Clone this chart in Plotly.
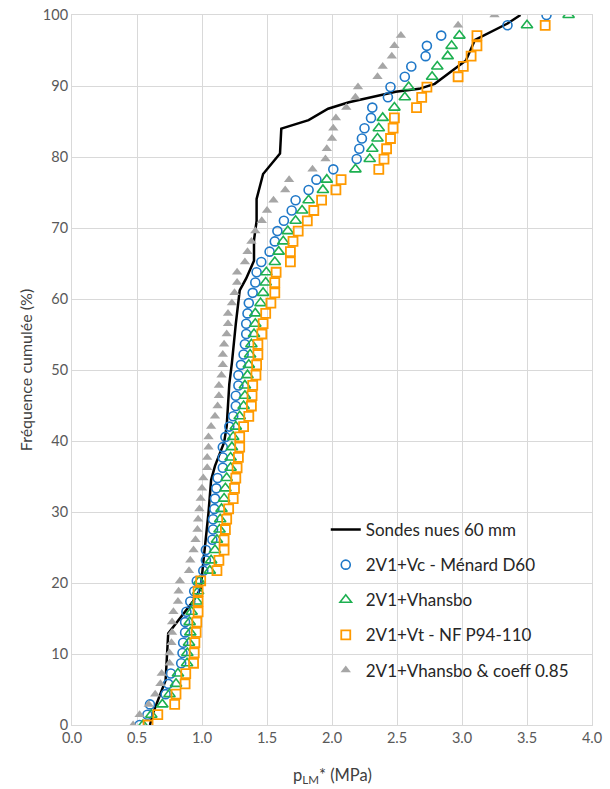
import plotly.graph_objects as go

n_pts = 70
pct = [i * 100 / (n_pts - 1) for i in range(n_pts)]

sondes_x = [0.60, 0.62, 0.72, 0.73, 0.74, 0.93, 0.99, 1.01, 1.05, 1.07, 1.10, 1.17, 1.19, 1.21, 1.23,
            1.26, 1.29, 1.34, 1.40, 1.40, 1.42, 1.42, 1.47, 1.60, 1.61, 1.82, 1.97, 2.13, 2.49, 2.67,
            2.79, 3.03, 3.10, 3.35, 3.45]
sondes_y = [0, 1.5, 6.3, 10, 12.9, 17.4, 19.2, 22.9, 29.9, 34.5, 36.5, 39.8, 42.1, 48.0, 51.0,
            56.5, 61.2, 62.9, 65.4, 68.3, 71.0, 74.1, 77.6, 80.5, 84.0, 85.2, 86.8, 87.7, 89.2, 89.6,
            90.3, 93.6, 96.5, 98.8, 100]

menard = [0.52, 0.58, 0.60, 0.72, 0.74, 0.76, 0.84, 0.85, 0.855, 0.87, 0.87, 0.88, 0.91, 0.94, 0.96,
          1.01, 1.03, 1.03, 1.08, 1.085, 1.085, 1.095, 1.10, 1.11, 1.12, 1.16, 1.16, 1.16, 1.18, 1.21,
          1.24, 1.26, 1.26, 1.28, 1.28, 1.30, 1.32, 1.33, 1.34, 1.34, 1.35, 1.36, 1.39, 1.41, 1.42,
          1.456, 1.52, 1.56, 1.58, 1.63, 1.69, 1.72, 1.82, 1.88, 2.01, 2.19, 2.21, 2.23, 2.25, 2.30,
          2.31, 2.43, 2.45, 2.56, 2.61, 2.72, 2.73, 2.84, 3.35, 3.65]

vhansbo = [0.546, 0.61, 0.695, 0.75, 0.80, 0.815, 0.885, 0.887, 0.90, 0.91, 0.905, 0.92, 0.96, 0.97, 0.98,
           1.06, 1.07, 1.10, 1.115, 1.135, 1.14, 1.15, 1.17, 1.18, 1.19, 1.22, 1.22, 1.23, 1.24, 1.26,
           1.29, 1.32, 1.33, 1.33, 1.35, 1.36, 1.37, 1.38, 1.40, 1.41, 1.41, 1.45, 1.47, 1.49, 1.495,
           1.56, 1.59, 1.625, 1.66, 1.72, 1.77, 1.82, 1.93, 1.96, 2.18, 2.29, 2.31, 2.35, 2.36, 2.39,
           2.48, 2.56, 2.59, 2.77, 2.81, 2.89, 2.92, 2.98, 3.50, 3.82]

nf_p94 = [0.585, 0.66, 0.79, 0.80, 0.87, 0.875, 0.935, 0.94, 0.945, 0.955, 0.96, 0.97, 0.97, 0.97, 0.99,
          1.115, 1.13, 1.17, 1.17, 1.18, 1.19, 1.205, 1.24, 1.25, 1.26, 1.27, 1.28, 1.29, 1.29, 1.32,
          1.36, 1.38, 1.385, 1.39, 1.415, 1.42, 1.43, 1.43, 1.46, 1.47, 1.49, 1.53, 1.56, 1.56, 1.57,
          1.68, 1.68, 1.70, 1.74, 1.81, 1.86, 1.92, 2.03, 2.07, 2.36, 2.40, 2.42, 2.45, 2.47, 2.48,
          2.65, 2.69, 2.73, 2.97, 3.01, 3.07, 3.115, 3.115, 3.64]

coeff085 = [0.47, 0.52, 0.59, 0.64, 0.68, 0.69, 0.75, 0.75, 0.765, 0.77, 0.77, 0.78, 0.815, 0.82, 0.83,
            0.90, 0.91, 0.935, 0.95, 0.965, 0.97, 0.98, 0.99, 1.00, 1.01, 1.04, 1.04, 1.05, 1.05, 1.07,
            1.10, 1.12, 1.13, 1.13, 1.15, 1.16, 1.16, 1.17, 1.19, 1.20, 1.20, 1.23, 1.25, 1.27, 1.27,
            1.33, 1.35, 1.38, 1.41, 1.46, 1.50, 1.55, 1.64, 1.67, 1.85, 1.95, 1.96, 2.00, 2.01, 2.03,
            2.11, 2.18, 2.20, 2.35, 2.39, 2.46, 2.48, 2.53, 2.97, 3.25]

x_ticks = [0.0, 0.5, 1.0, 1.5, 2.0, 2.5, 3.0, 3.5, 4.0]
y_ticks = [0, 10, 20, 30, 40, 50, 60, 70, 80, 90, 100]

FONT = "Lato"
fig = go.Figure()

fig.add_trace(go.Scatter(x=sondes_x, y=sondes_y, mode="lines", name="Sondes nues 60 mm",
                         line=dict(color="black", width=2.5), legendgroup="a"))
fig.add_trace(go.Scatter(x=menard, y=pct[:len(menard)], mode="markers", name="2V1+Vc - Ménard D60",
                         marker=dict(symbol="circle-open", size=9, color="#1F78C8",
                                     line=dict(width=1.6, color="#1F78C8")), legendgroup="b"))
fig.add_trace(go.Scatter(x=vhansbo, y=pct[:len(vhansbo)], mode="markers", name="2V1+Vhansbo",
                         marker=dict(symbol="triangle-up-open", size=10, color="#1DB050",
                                     line=dict(width=1.6, color="#1DB050")), legendgroup="c"))
fig.add_trace(go.Scatter(x=nf_p94, y=pct[:len(nf_p94)], mode="markers", name="2V1+Vt - NF P94-110",
                         marker=dict(symbol="square-open", size=9, color="#FF9A00",
                                     line=dict(width=1.8, color="#FF9A00")), legendgroup="d"))
fig.add_trace(go.Scatter(x=coeff085, y=pct[:len(coeff085)], mode="markers",
                         name="2V1+Vhansbo & coeff 0.85",
                         marker=dict(symbol="triangle-up", size=9, color="#A6A6A6"), legendgroup="e"))

fig.update_layout(
    width=610, height=789,
    paper_bgcolor="white", plot_bgcolor="white",
    margin=dict(l=72, r=18, t=15, b=64),
    font=dict(family=FONT, size=14, color="#404040"),
    showlegend=True,
    legend=dict(x=0.488, y=0.30, xanchor="left", yanchor="top",
                bgcolor="rgba(0,0,0,0)", font=dict(size=17, color="#262626", family=FONT),
                traceorder="grouped", tracegroupgap=10, itemwidth=30),
    annotations=[
        dict(text="p<sub>LM</sub>* (MPa)", xref="paper", yref="paper", x=0.5, y=-0.071,
             xanchor="center", yanchor="middle", showarrow=False,
             font=dict(size=16.5, color="#404040", family=FONT)),
        dict(text="Fréquence cumulée (%)", xref="paper", yref="paper", x=-0.090, y=0.5,
             xanchor="center", yanchor="middle", showarrow=False, textangle=-90,
             font=dict(size=16, color="#404040", family=FONT)),
    ],
)
fig.update_xaxes(range=[0, 4], tickvals=x_ticks, ticktext=[f"{v:.1f}" for v in x_ticks],
                 showgrid=True, gridcolor="#D9D9D9", gridwidth=1, zeroline=False,
                 showline=True, linecolor="#D9D9D9", mirror=True, ticks="", automargin=False,
                 tickfont=dict(size=14.5, color="#595959"))
fig.update_yaxes(range=[0, 100], tickvals=y_ticks, showgrid=True, gridcolor="#D9D9D9", gridwidth=1,
                 zeroline=False, showline=True, linecolor="#D9D9D9", mirror=True, ticks="",
                 automargin=False, tickfont=dict(size=14.5, color="#595959"))

page_fix = "document.body.style.margin='0';document.body.style.overflow='hidden';"
fig.write_html("out.html", post_script=page_fix, config={"displayModeBar": False})
